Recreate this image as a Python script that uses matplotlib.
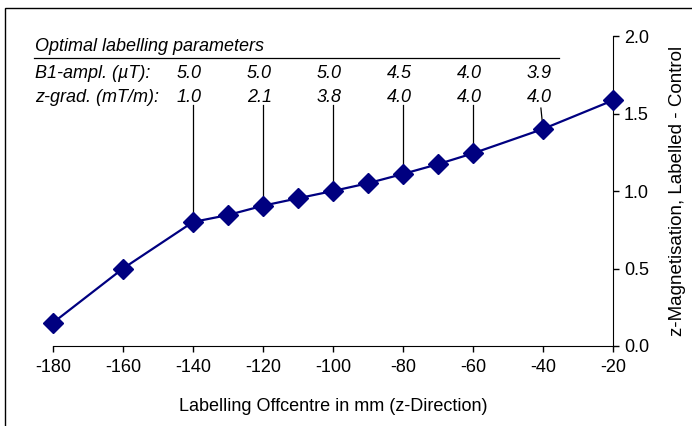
import matplotlib.pyplot as plt
from matplotlib.patches import Rectangle

plt.rcParams['font.family'] = ['Liberation Sans', 'DejaVu Sans']

# measured data
offcentre = [-180, -160, -140, -130, -120, -110, -100, -90, -80, -70, -60, -40, -20]
magnetisation = [0.15, 0.50, 0.80, 0.845, 0.905, 0.953, 1.0, 1.05, 1.11, 1.173, 1.243, 1.40, 1.585]

# optimal labelling parameters for selected offcentres
param_x = [-140, -120, -100, -80, -60, -40]
b1_ampl = ['5.0', '5.0', '5.0', '4.5', '4.0', '3.9']
z_grad = ['1.0', '2.1', '3.8', '4.0', '4.0', '4.0']

x_ticks = [-180, -160, -140, -120, -100, -80, -60, -40, -20]
y_ticks = [0.0, 0.5, 1.0, 1.5, 2.0]

fig = plt.figure(figsize=(6.92, 4.26), dpi=100)
ax = fig.add_axes([53 / 692, 80 / 426, 560 / 692, 310 / 426])

# frame around the chart area
fig.patches.append(Rectangle((5 / 692, -0.1), 1.2, (426 - 8) / 426 + 0.1,
                             transform=fig.transFigure, fill=False,
                             edgecolor='black', linewidth=1.0))

ax.plot(offcentre, magnetisation, color='#000080', linewidth=1.6,
        marker='D', markersize=10, markerfacecolor='#000080',
        markeredgecolor='#000080', zorder=3, clip_on=False)

ax.set_xlim(-180, -20)
ax.set_ylim(0, 2.0)
ax.set_xticks(x_ticks)
ax.set_xticklabels([str(v) for v in x_ticks])
ax.set_yticks(y_ticks)
ax.set_yticklabels([f'{v:.1f}' for v in y_ticks])

ax.spines['left'].set_visible(False)
ax.spines['top'].set_visible(False)
ax.yaxis.tick_right()
ax.yaxis.set_label_position('right')
ax.tick_params(axis='x', direction='out', length=4, width=1, labelsize=13, pad=5)
ax.tick_params(axis='y', direction='out', length=4, width=1, labelsize=13, pad=4)

ax.set_xlabel('Labelling Offcentre in mm (z-Direction)', fontsize=13, labelpad=16)
ax.set_ylabel('z-Magnetisation, Labelled - Control', fontsize=13.5, labelpad=14)

# parameter table
y_top_line = 1.555
row_b1 = 1.757
row_zg = 1.603
ax.text(-185.2, 1.935, 'Optimal labelling parameters', style='italic',
        fontsize=13, ha='left', va='center', clip_on=False)
ax.plot([-185.5, -35.5], [1.855, 1.855], color='black', linewidth=0.9,
        clip_on=False)
ax.text(-185.2, row_b1, 'B1-ampl. (\u00b5T):', style='italic', fontsize=13,
        ha='left', va='center', clip_on=False)
ax.text(-185.2, row_zg, 'z-grad. (mT/m):', style='italic', fontsize=13,
        ha='left', va='center', clip_on=False)

for xv, b1, zg in zip(param_x, b1_ampl, z_grad):
    ax.text(xv - 1, row_b1, b1, style='italic', fontsize=13, ha='center', va='center')
    ax.text(xv - 1, row_zg, zg, style='italic', fontsize=13, ha='center', va='center')
    yv = magnetisation[offcentre.index(xv)]
    ax.plot([xv - 0.6 if xv == -40 else xv, xv], [y_top_line - 0.02 if xv == -40 else y_top_line, yv],
            color='black', linewidth=0.9, zorder=2)

fig.savefig('out.png', dpi=100)
